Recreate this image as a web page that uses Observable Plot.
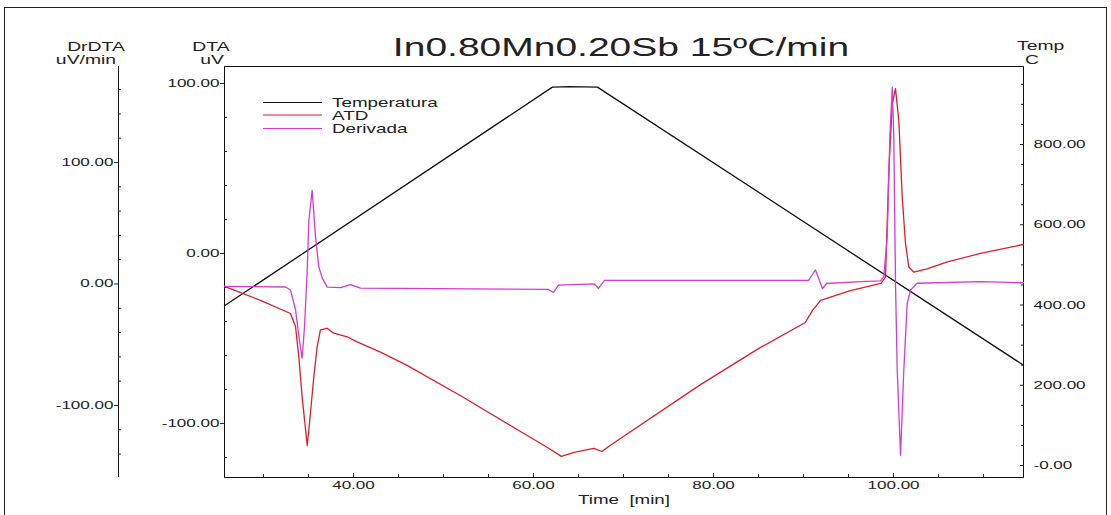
<!DOCTYPE html>
<html><head><meta charset="utf-8">
<script src="https://cdn.jsdelivr.net/npm/d3@7"></script>
<script src="https://cdn.jsdelivr.net/npm/@observablehq/plot@0.6"></script>
<style>
html,body{margin:0;padding:0;background:#fff;}
#wrap{position:relative;width:1111px;height:515px;overflow:hidden;}
#border{position:absolute;left:4px;top:7px;width:1103px;height:560px;border:1px solid #222;box-sizing:border-box;pointer-events:none;}
#chart{position:absolute;left:0;top:0;}
</style></head><body>
<div id="wrap"><div id="chart"></div><div id="border"></div></div>
<script>
// ---------- data ----------
const title = "In0.80Mn0.20Sb 15ºC/min";
const seriesNames = ["Temperatura", "ATD", "Derivada"];
const seriesColors = ["#111111", "#dc1e28", "#d63ad6"];

// Temperature (°C) vs time (min)
const tempTime = [25.67, 62.1, 64.0, 67.1, 114.44];
const tempVal  = [398, 943, 944, 943, 250];

// ATD / DTA (uV) vs time (min)
const atdTime = [25.67, 29.67, 33.0, 33.56, 33.93, 34.3, 34.86, 35.22, 35.59, 35.96, 36.33, 37.08, 37.8, 39.3, 40.4, 43.0,
  46.0, 52.0, 58.0, 61.5, 63.1, 64.5, 66.7, 67.6, 68.5, 78.6, 85.0, 90.2, 91.0, 91.9, 95.2, 98.6, 99.11, 99.48, 99.86,
  100.22, 100.59, 100.97, 101.33, 101.7, 102.26, 103.74, 105.97, 109.67, 114.44];
const atdVal  = [-19.4, -27.6, -35.3, -43, -61, -84.5, -113, -94, -72.7, -55, -45, -44, -46.9, -49, -52, -58,
  -66, -84, -103, -114, -119.4, -117, -114.7, -116.5, -113, -77, -56, -40.6, -33.5, -27.6, -21.8, -17.6, -13.9, 48.8, 88,
  97, 78, 33, 5.9, -8, -11, -9, -5, 0, 5.3];

// Derivada / DrDTA (uV/min) vs time (min)
const derTime = [25.67, 32.44, 33.0, 33.56, 33.93, 34.3, 34.56, 34.86, 35.04, 35.41, 35.78, 36.15, 36.52, 37.08, 38.56, 39.67,
  40.78, 61.67, 62.22, 62.78, 66.78, 67.22, 67.89, 90.56, 91.0, 91.33, 91.67, 92.1, 92.56, 96.33, 98.56, 98.92, 99.3, 99.59,
  99.86, 100.03, 100.22, 100.41, 100.78, 101.14, 101.52, 101.89, 102.63, 109.67, 114.44];
const derVal  = [-2, -2.5, -5, -21, -43, -61, -35, 11, 52, 77, 39, 14, 5, -2.6, -3, -0.5,
  -3.5, -4.5, -7, -1, 0, -3.7, 3, 3, 8, 11.5, 5, -3.7, 0.4, 1.9, 2.5, 6, 39, 121,
  162, 121, 0, -71, -141, -71, -16, -5, 0.6, 1.9, 1.0];

// axis ticks
const timeTicks = [40, 60, 80, 100];
const timeMinor = [30, 35, 45, 50, 55, 65, 70, 75, 85, 90, 95, 105, 110];
const dtaTicks = [-100, 0, 100];
const dtaMinor = [-120, -80, -60, -40, -20, 20, 40, 60, 80];
const derTicks = [-100, 0, 100];
const derMinor = [-140, -120, -80, -60, -40, -20, 20, 40, 60, 80, 120, 140, 160];
const tempTicks = [0, 200, 400, 600, 800];
const tempTickLabels = ["-0.00", "200.00", "400.00", "600.00", "800.00"];
const tempMinor = [50, 100, 150, 250, 300, 350, 450, 500, 550, 650, 700, 750, 850, 900, 950];

// ---------- scales ----------
const X0 = 25.67, X1 = 114.44;       // time
const Y0 = -131.8, Y1 = 110;         // DTA (primary y)
const T0 = -29.9, T1 = 994.4;        // temperature axis extent
const D0 = -159.3, D1 = 179;         // DrDTA axis extent
const fromT = T => Y0 + (T - T0) / (T1 - T0) * (Y1 - Y0);
const fromD = D => Y0 + (D - D0) / (D1 - D0) * (Y1 - Y0);

const temp = tempTime.map((t, i) => ({t, v: fromT(tempVal[i])}));
const atd = atdTime.map((t, i) => ({t, v: atdVal[i]}));
const der = derTime.map((t, i) => ({t, v: fromD(derVal[i])}));

const f2 = d => d.toFixed(2);
const derMap = new Map(derTicks.map(d => [fromD(d), f2(d)]));
const tempMap = new Map(tempTicks.map((d, i) => [fromT(d), tempTickLabels[i]]));
const none = () => "";
const FS = 11;

const chart = Plot.plot({
  width: 1111, height: 515,
  marginLeft: 224, marginRight: 88, marginTop: 66, marginBottom: 38,
  style: {fontFamily: "'Liberation Sans', Arial, sans-serif", fontSize: "11px", color: "#222", background: "transparent"},
  x: {domain: [X0, X1]},
  y: {domain: [Y0, Y1]},
  marks: [
    Plot.frame({stroke: "#111"}),
    // time axis
    Plot.axisX(timeTicks, {anchor: "bottom", tickSize: -4, tickPadding: 8, tickFormat: f2, label: null, fontSize: FS}),
    Plot.axisX(timeMinor, {anchor: "bottom", tickSize: -3, tickFormat: none, label: null}),
    // DTA axis
    Plot.axisY(dtaTicks, {anchor: "left", tickSize: 4, tickPadding: 1, tickFormat: f2, label: null, fontSize: FS}),
    Plot.axisY(dtaMinor, {anchor: "left", tickSize: -3, tickFormat: none, label: null}),
    // DrDTA axis (offset left)
    Plot.ruleX([X0], {y1: Y0, y2: Y1, dx: -106, stroke: "#111"}),
    Plot.axisY(derTicks.map(fromD), {anchor: "left", dx: -106, tickSize: 4, tickPadding: 1, tickFormat: d => derMap.get(d), label: null, fontSize: FS}),
    Plot.axisY(derMinor.map(fromD), {anchor: "left", dx: -106, tickSize: -3, tickFormat: none, label: null}),
    // Temperature axis (right)
    Plot.axisY(tempTicks.map(fromT), {anchor: "right", tickSize: -4, tickPadding: 14, tickFormat: d => tempMap.get(d), label: null, fontSize: FS}),
    Plot.axisY(tempMinor.map(fromT), {anchor: "right", tickSize: -3, tickFormat: none, label: null}),
    // series
    Plot.line(temp, {x: "t", y: "v", stroke: seriesColors[0], strokeWidth: 1.3}),
    Plot.line(atd, {x: "t", y: "v", stroke: seriesColors[1], strokeWidth: 1.3}),
    Plot.line(der, {x: "t", y: "v", stroke: seriesColors[2], strokeWidth: 1.3})
  ]
});
document.getElementById("chart").appendChild(chart);

// horizontally stretched lettering, like the reference
const SX = 1.55;
chart.querySelectorAll("text").forEach(t => {
  const x = t.hasAttribute("x") ? +t.getAttribute("x") : 0;
  if (t.hasAttribute("x")) t.setAttribute("x", 0);
  const tr = t.getAttribute("transform") || "";
  t.setAttribute("transform", `${tr} translate(${x},0) scale(${SX},1)`);
});

const svg = d3.select(chart);
const addText = (txt, x, y, size, anchor, sx) =>
  svg.append("text").text(txt)
    .attr("transform", `translate(${x},${y}) scale(${sx},1)`)
    .attr("text-anchor", anchor).attr("font-size", size).attr("fill", "#222");

addText(title, 621, 56, 26, "middle", 1.5);
addText("DrDTA", 96, 51, 12.5, "middle", 1.55);
addText("uV/min", 86, 63.5, 12.5, "middle", 1.55);
addText("DTA", 211, 51, 12.5, "middle", 1.55);
addText("uV", 212, 63.5, 12.5, "middle", 1.55);
addText("Temp", 1017, 50, 12.5, "start", 1.55);
addText("C", 1025, 63.5, 12.5, "start", 1.55);
addText("Time  [min]", 624, 503.5, 12.5, "middle", 1.5).attr("xml:space", "preserve").style("white-space", "pre");

// legend
const legY = [102.5, 115, 128.5];
seriesNames.forEach((name, i) => {
  svg.append("line").attr("x1", 263).attr("x2", 322).attr("y1", legY[i]).attr("y2", legY[i])
    .attr("stroke", seriesColors[i]).attr("stroke-width", 1.2);
  addText(name, 332, legY[i] + 4.5, 13, "start", 1.45);
});
</script>
</body></html>
